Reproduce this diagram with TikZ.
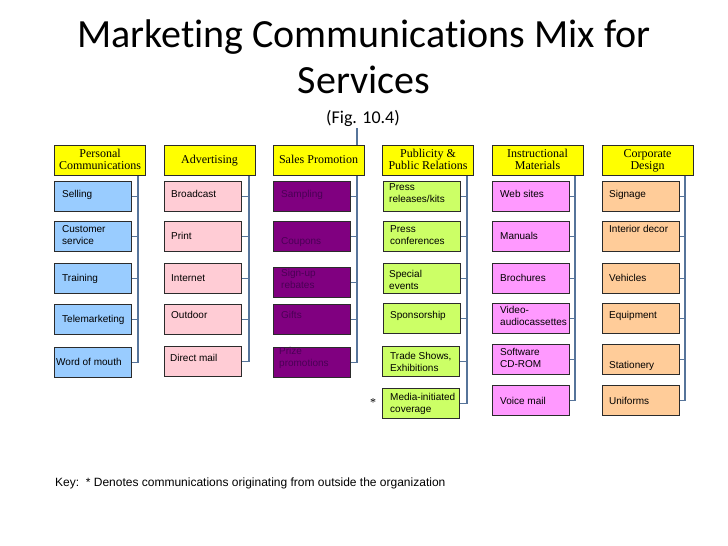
\documentclass[tikz,border=0pt]{standalone}
\usepackage{fontspec}
\setmainfont{Liberation Serif}
\setsansfont{Liberation Sans}
\newfontfamily\titlefont[Ligatures={NoCommon}]{Carlito}
\usetikzlibrary{backgrounds}
\definecolor{bluef}{HTML}{99CCFF}
\definecolor{pinkf}{HTML}{FFCCD5}
\definecolor{purpf}{HTML}{800080}
\definecolor{purpt}{HTML}{4A0055}
\definecolor{greenf}{HTML}{CCFF66}
\definecolor{magf}{HTML}{FF99FF}
\definecolor{orangef}{HTML}{FFCC99}
\definecolor{hdrf}{HTML}{FFFF00}
\definecolor{linec}{HTML}{56749A}
\definecolor{edgec}{HTML}{2B2B2B}
\tikzset{
  hdr/.style={draw=edgec, fill=hdrf, line width=0.9pt, minimum width=91pt, minimum height=30pt,
    inner sep=0pt, align=center, font=\fontsize{12}{12}\selectfont},
  cbox/.style={draw=edgec, line width=1pt, minimum width=77pt, minimum height=29.5pt,
    inner sep=0pt, anchor=north west},
  txt/.style={anchor=base west, inner sep=0pt, align=left, font=\sffamily\fontsize{10}{12}\selectfont},
  conn/.style={draw=linec, line width=1.3pt},
}
\newcommand\hs{\rule[-2.0pt]{0pt}{11.2pt}}
% #6 = baseline of the last text line
\newcommand\cb[8]{%
  \node[cbox, fill=#4] (#1) at (#2,#3) {};
  \node[txt, text=#8] (#1t) at (#5,#6) {#7};}
\begin{document}
\begin{tikzpicture}[x=1pt, y=-1pt]
\useasboundingbox (0,0) rectangle (728,546);
% title
\node[anchor=base, inner sep=0pt, align=center, font=\titlefont\fontsize{40}{46}\selectfont] (title) at (364,93)
  {Marketing Communications Mix for\\Services};
\node[anchor=base, inner sep=0pt, font=\titlefont\fontsize{18}{18}\selectfont] (fig) at (363,123) {(Fig. 10.4)};
% headers
\node[hdr] (H1) at (100,160) {\hs Personal\\\hs Communications};
\node[hdr] (H2) at (209.5,160) {\hs Advertising};
\node[hdr] (H3) at (318.5,160) {\hs Sales Promotion};
\node[hdr] (H4) at (428,160) {\hs Publicity \&\\\hs Public Relations};
\node[hdr] (H5) at (537.5,160) {\hs Instructional\\\hs Materials};
\node[hdr] (H6) at (647.5,160) {\hs Corporate\\\hs Design};
% column 1
\cb{A1}{54}{181}{bluef}{62}{197.5}{Selling}{black}
\cb{A2}{54}{221}{bluef}{62}{244.5}{Customer\\service}{black}
\cb{A3}{54}{263}{bluef}{62}{281.5}{Training}{black}
\cb{A4}{54}{304}{bluef}{62}{322.5}{Telemarketing}{black}
\cb{A5}{54}{347}{bluef}{56}{365.5}{Word of mouth}{black}
% column 2
\cb{B1}{164}{181}{pinkf}{171}{197.5}{Broadcast}{black}
\cb{B2}{164}{221}{pinkf}{171}{239.5}{Print}{black}
\cb{B3}{164}{263}{pinkf}{171}{281.5}{Internet}{black}
\cb{B4}{164}{304}{pinkf}{171}{318.5}{Outdoor}{black}
\cb{B5}{164}{346}{pinkf}{170}{361.5}{Direct mail}{black}
% column 3
\cb{C1}{273}{181}{purpf}{281}{197.5}{Sampling}{purpt}
\cb{C2}{273}{221}{purpf}{281}{244.5}{Coupons}{purpt}
\cb{C3}{273}{267}{purpf}{281}{288.5}{Sign-up\\rebates}{purpt}
\cb{C4}{273}{304}{purpf}{281}{318.5}{Gifts}{purpt}
\cb{C5}{273}{347}{purpf}{279}{366.5}{Prize\\promotions}{purpt}
% column 4
\cb{D1}{383}{181}{greenf}{389}{202.5}{Press\\releases/kits}{black}
\cb{D2}{383}{221}{greenf}{390}{244.5}{Press\\conferences}{black}
\cb{D3}{383}{263}{greenf}{389}{289}{Special\\events}{black}
\cb{D4}{383}{303}{greenf}{390}{318.5}{Sponsorship}{black}
\cb{D5}{382}{346}{greenf}{390}{371}{Trade Shows,\\Exhibitions}{black}
\cb{D6}{382}{388}{greenf}{390}{412.5}{Media-initiated\\coverage}{black}
% column 5
\cb{E1}{492}{181}{magf}{500}{197.5}{Web sites}{black}
\cb{E2}{492}{221}{magf}{500}{239.5}{Manuals}{black}
\cb{E3}{492}{263}{magf}{500}{281.5}{Brochures}{black}
\cb{E4}{492}{303}{magf}{500}{325}{Video-\\audiocassettes}{black}
\cb{E5}{492}{344}{magf}{500}{367}{Software\\CD-ROM}{black}
\cb{E6}{492}{385}{magf}{500}{404}{Voice mail}{black}
% column 6
\cb{F1}{602}{181}{orangef}{609}{197.5}{Signage}{black}
\cb{F2}{602}{221}{orangef}{609}{232.5}{Interior decor}{black}
\cb{F3}{602}{263}{orangef}{609}{281.5}{Vehicles}{black}
\cb{F4}{602}{303}{orangef}{609}{318.5}{Equipment}{black}
\cb{F5}{602}{344}{orangef}{609}{368}{Stationery}{black}
\cb{F6}{602}{385}{orangef}{609}{404}{Uniforms}{black}
% asterisk and key
\node[anchor=base, inner sep=0pt, font=\fontsize{12}{12}\selectfont] (star) at (373,406) {*};
\node[anchor=base west, inner sep=0pt, font=\sffamily\fontsize{12}{14}\selectfont] (key) at (55,486)
  {Key:\ \ * Denotes communications originating from outside the organization};
% connector lines
\coordinate (v1) at (138,0);
\coordinate (v2) at (249,0);
\coordinate (v3) at (357,128);
\coordinate (v4) at (467,0);
\coordinate (v5) at (575,0);
\coordinate (v6) at (685,0);
\begin{scope}[on background layer]
\draw[conn] (H1.south -| v1) |- (A5.east);
\foreach \n in {A1,A2,A3,A4} \draw[conn] (\n.east) -- (\n.east -| v1);
\draw[conn] (H2.south -| v2) |- (B5.east);
\foreach \n in {B1,B2,B3,B4} \draw[conn] (\n.east) -- (\n.east -| v2);
\draw[conn] (v3) |- (C5.east);
\foreach \n in {C1,C2,C3,C4} \draw[conn] (\n.east) -- (\n.east -| v3);
\draw[conn] (H4.south -| v4) |- (D6.east);
\foreach \n in {D1,D2,D3,D4,D5} \draw[conn] (\n.east) -- (\n.east -| v4);
\draw[conn] (H5.south -| v5) |- (E6.east);
\foreach \n in {E1,E2,E3,E4,E5} \draw[conn] (\n.east) -- (\n.east -| v5);
\draw[conn] (H6.south -| v6) |- (F6.east);
\foreach \n in {F1,F2,F3,F4,F5} \draw[conn] (\n.east) -- (\n.east -| v6);
\end{scope}
\end{tikzpicture}
\end{document}
